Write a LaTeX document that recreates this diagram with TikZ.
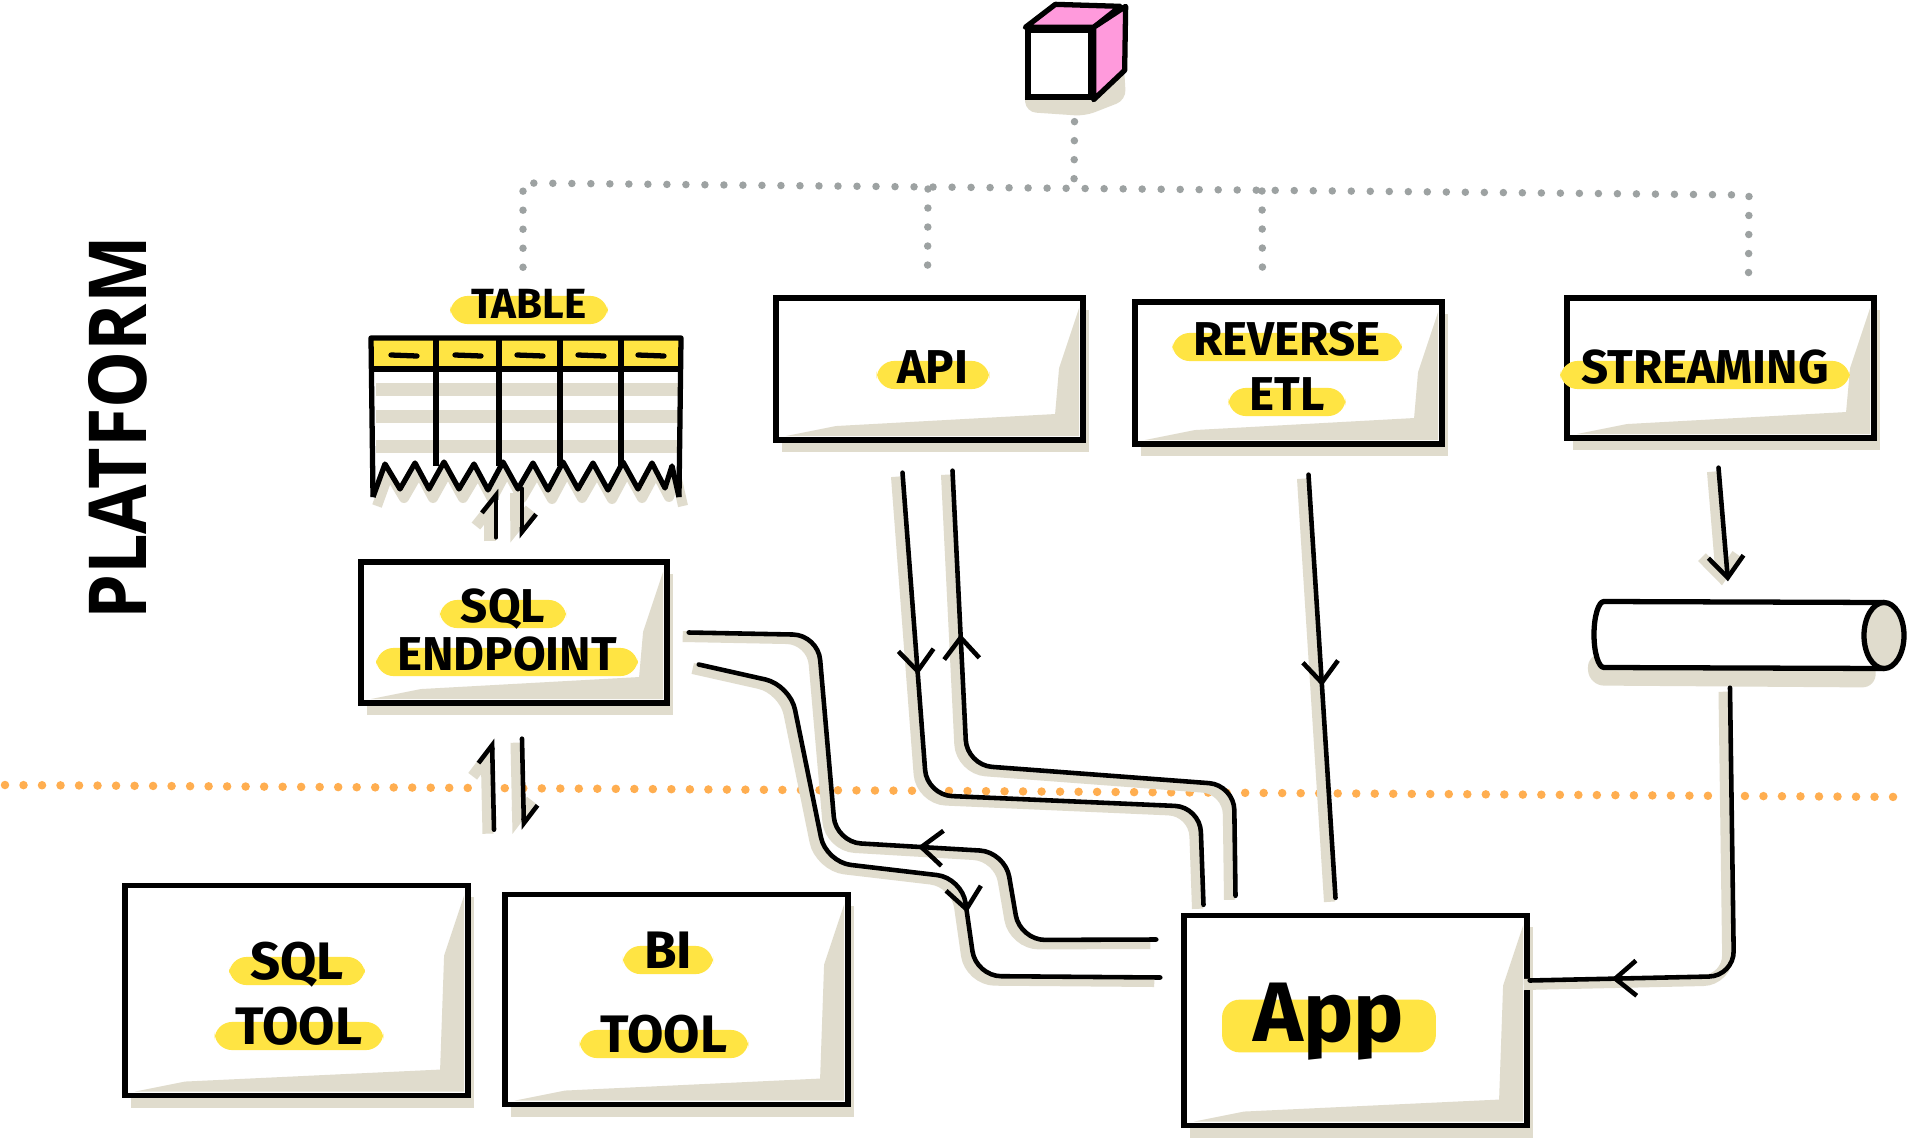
\documentclass[tikz,border=0pt]{standalone}
\usepackage{fontspec}
\setmainfont{Fira Sans}
\newfontfamily\headfont{Open Sans}
\usetikzlibrary{calc,arrows.meta,decorations.markings}

\definecolor{hly}{HTML}{FFE443}
\definecolor{sandgrey}{HTML}{E0DCCD}
\definecolor{dotgrey}{HTML}{9DA2A2}
\definecolor{dotorange}{HTML}{FFAE50}
\definecolor{cubepink}{HTML}{FF9ADC}

\tikzset{
  fwd/.style={postaction={decorate,decoration={markings,
    mark=at position #1 with {\arrow{Straight Barb[length=6pt,width=10pt]}}}}},
  bwd/.style={postaction={decorate,decoration={markings,
    mark=at position #1 with {\arrowreversed{Straight Barb[length=6pt,width=10pt]}}}}}
}

\begin{document}
\begin{tikzpicture}[x=0.01cm,y=-0.01cm]
\tikzstyle{box}=[draw,line width=1.5pt,fill=white,minimum width=3.07cm,minimum height=1.42cm,
  preaction={fill=sandgrey,transform canvas={shift={(0.06cm,-0.12cm)}}},
  path picture={\fill[sandgrey]
    ($(path picture bounding box.north east)+(-4,10)$) --
    ($(path picture bounding box.south east)+(-4,-4)$) --
    ($(path picture bounding box.south west)+(10,-4)$) --
    ($(path picture bounding box.south west)+(60,-14)$) --
    ($(path picture bounding box.south east)+(-28,-26)$) --
    ($(path picture bounding box.north east)+(-24,70)$) -- cycle;}]
\tikzstyle{bigbox}=[box,minimum width=3.43cm,minimum height=2.1cm]
\tikzstyle{hl}=[fill=hly,rounded corners=5pt,inner xsep=6pt,inner ysep=0pt,
  text height=6.5pt,text depth=1.5pt,font=\bfseries\fontsize{13.5}{15}\selectfont]
\tikzstyle{flow}=[line width=1.3pt,line cap=round,rounded corners=0.25cm,
  preaction={draw=sandgrey,line width=0.11cm,transform canvas={shift={(-0.06cm,-0.04cm)}}}]
\tikzstyle{harp}=[flow,-{Straight Barb[harpoon,length=5pt,width=8pt]}]
\tikzstyle{greydots}=[draw=dotgrey,line width=0.075cm,line cap=round,dash pattern=on 0pt off 0.19cm]
\tikzstyle{orangedots}=[draw=dotorange,line width=0.085cm,line cap=round,dash pattern=on 0pt off 0.185cm]

\fill[white] (0,0) rectangle (1908,1139);
\useasboundingbox (0,0) rectangle (1908,1139);

% cube on top
\fill[sandgrey,rounded corners=0.1cm] (1024,88) -- (1124,66) -- (1126,100) -- (1085,116) -- (1026,112) -- cycle;
\node[draw,line width=1.5pt,fill=white,minimum width=0.63cm,minimum height=0.67cm,inner sep=0pt] (cube) at (1059.5,63.5) {};
\filldraw[fill=cubepink,line width=1.5pt,line join=round] (cube.north west) -- ++(30,-23) -- ++(65,2) -- (cube.north east) -- cycle;
\filldraw[fill=cubepink,line width=1.5pt,line join=round] (cube.north east) -- ++(32,-21) -- ++(-1,64) -- (cube.south east) -- cycle;

\node[font=\headfont,rotate=90] (platform) at (118,428) {\resizebox{3.83cm}{0.58cm}{\bfseries PLATFORM}};

% boxes
\node[box] (api) at (929.5,369) {};
\node[box] (retl) at (1288.5,373) {};
\node[box,minimum height=1.40cm] (strm) at (1720.5,368) {};
\node[box,minimum width=3.06cm,minimum height=1.41cm] (sqlend) at (514,632.5) {};
\node[bigbox] (sqltool) at (296.5,990.5) {};
\node[bigbox] (bitool) at (676.5,999.5) {};
\node[bigbox] (app) at (1355.5,1020.5) {};

% the stream topic (a lying pipe)
\node[minimum width=3.1cm,minimum height=0.67cm,inner sep=0pt] (cyl) at (1749,635.5) {};
\begin{scope}[shift={(cyl.center)}]
  \fill[sandgrey,rounded corners=0.15cm] (-162,18) -- (125,20) -- (128,52) -- (-160,50) -- cycle;
  \filldraw[fill=white,line width=1.5pt,line join=round] (135,-33) -- (-145,-34)
    arc[start angle=270,end angle=90,x radius=10,y radius=33] -- (135,33);
  \filldraw[fill=sandgrey,line width=1.5pt] (135,0) ellipse[x radius=20,y radius=33];
\end{scope}

% the table
\node[minimum width=3.1cm,minimum height=1.6cm,inner sep=0pt] (table) at (526,418) {};
\begin{scope}[shift={(table.center)}]
  \draw[sandgrey,line width=0.1cm,line join=round,shift={(4,9)}] (-153,79) -- (-141,46) -- (-126,71) -- (-111,45) -- (-97,71) -- (-82,44) -- (-67,71) -- (-52,46) -- (-38,72) -- (-23,44) -- (-8,71) -- (7,45) -- (22,72) -- (37,44) -- (52,71) -- (67,45) -- (82,72) -- (97,44) -- (112,71) -- (126,45) -- (139,70) -- (146,48) -- (153,79);
  \fill[white] (-155,-80) -- (155,-80) -- (153,79) -- (146,48) -- (139,70) -- (126,45) -- (112,71) -- (97,44) -- (82,72) -- (67,45) -- (52,71) -- (37,44) -- (22,72) -- (7,45) -- (-8,71) -- (-23,44) -- (-38,72) -- (-52,46) -- (-67,71) -- (-82,44) -- (-97,71) -- (-111,45) -- (-126,71) -- (-141,46) -- (-153,79) -- cycle;
  \fill[hly] (-153,-78) rectangle (154,-50);
  \foreach \y in {-35,-8,22}
    \fill[sandgrey] (-150,\y) rectangle (152,\y+13);
  \draw[line width=1.5pt,line join=round] (-153,79) -- (-155,-80) -- (155,-80) -- (153,79);
  \draw[line width=1.5pt,line join=round] (-153,79) -- (-141,46) -- (-126,71) -- (-111,45) -- (-97,71) -- (-82,44) -- (-67,71) -- (-52,46) -- (-38,72) -- (-23,44) -- (-8,71) -- (7,45) -- (22,72) -- (37,44) -- (52,71) -- (67,45) -- (82,72) -- (97,44) -- (112,71) -- (126,45) -- (139,70) -- (146,48) -- (153,79);
  \draw[line width=1.5pt] (-155,-49) -- (155,-49);
  \foreach \x in {-90,-27,34,95}
    \draw[line width=1.5pt] (\x,-80) -- (\x,48);
  \foreach \x in {-122,-58,4,65,125}
    \draw[line width=1.5pt,line cap=round] (\x-13,-63) -- (\x+13,-62);
\end{scope}

% labels
\node[hl,font=\bfseries\fontsize{12}{14}\selectfont] (tablelbl) at (529,310) {TABLE};
\node[hl] (apilbl) at (933,375) {API};
\node[hl] (retlA) at (1287,347) {REVERSE};
\node[hl] (retlB) at (1287,402) {ETL};
\node[hl] (strmlbl) at (1705,375) {STREAMING};
\node[hl] (sqlendA) at (503,614) {SQL};
\node[hl] (sqlendB) at (507,662) {ENDPOINT};
\node[hl,font=\bfseries\fontsize{15}{17}\selectfont] (sqltoolA) at (297,971) {SQL};
\node[hl,font=\bfseries\fontsize{15}{17}\selectfont] (sqltoolB) at (299,1036) {TOOL};
\node[hl,font=\bfseries\fontsize{15}{17}\selectfont] (bitoolA) at (668,960) {BI};
\node[hl,font=\bfseries\fontsize{15}{17}\selectfont] (bitoolB) at (664,1044) {TOOL};
\node[hl,font=\bfseries\fontsize{24}{26}\selectfont,text height=12pt,text depth=3pt,inner xsep=9pt] (applbl) at (1329,1026) {App};

% grey dotted links from the cube
\draw[greydots] ($(cube.south)+(15,22)$) -- (1074,188);
\draw[greydots] ($(tablelbl.north)+(-6,-28)$) -- (523,183) -- (1749,195) -- ($(strm.north)+(28,-14)$);
\draw[greydots] (928,189) -- ($(api.north)+(-2,-13)$);
\draw[greydots] (1262,191) -- ($(retl.north)+(-26,-20)$);

% platform border
\draw[orangedots] (5,785) -- (1905,797);

% table <-> sql endpoint <-> tools
\draw[harp] ($(sqlend.north)+(-18,-22)$) -- ($(table.south)+(-30,-10)$);
\draw[harp] ($(table.south)+(-4,-10)$) -- ($(sqlend.north)+(8,-21)$);
\draw[harp] ($(sqlend.south)+(-20,124)$) -- ($(sqlend.south)+(-22,33)$);
\draw[harp] ($(sqlend.south)+(8,33)$) -- ($(sqlend.south)+(10,124)$);

% api <-> app
\draw[flow,fwd=0.3] ($(api.south)+(-27,30)$) -- (927,795) -- (1200,807) -- ($(app.north)+(-152,-8)$);
\draw[flow,bwd=0.25] ($(api.south)+(23,28)$) -- (967,765) -- (1234,785) -- ($(app.north)+(-120,-17)$);

% reverse etl -> app
\draw[flow,fwd=0.5] ($(retl.south)+(20,28)$) -- ($(app.north)+(-20,-15)$);

% streaming -> topic -> app
\draw[flow,-{Straight Barb[length=6pt,width=10pt]}] ($(strm.south)+(-2,27)$) -- ($(cyl.north)+(-21,-20)$);
\draw[flow,fwd=0.83] ($(cyl.south)+(-19,18)$) -- (1734,976) -- ($(app.east)+(0,-40)$);

% sql endpoint <-> app
\draw[flow,bwd=0.575] ($(sqlend.east)+(19,0)$) -- (818,635) -- (836,842) -- (1005,852) -- (1020,940) -- ($(app.west)+(-25,-81)$);
\draw[flow,fwd=0.64] ($(sqlend.east)+(29,32)$) -- (790,685) -- (826,862) -- (962,878) -- (976,976) -- ($(app.west)+(-21,-43)$);
\end{tikzpicture}
\end{document}
